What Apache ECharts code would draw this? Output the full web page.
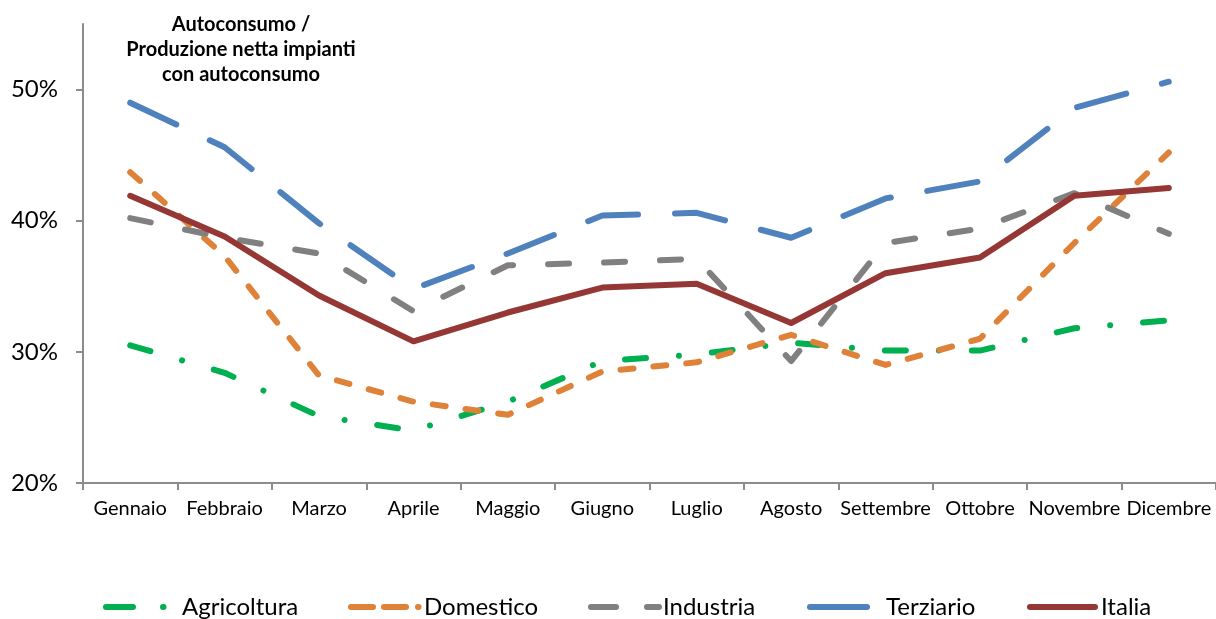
<!DOCTYPE html>
<html>
<head>
<meta charset="utf-8">
<title>Autoconsumo / Produzione netta impianti con autoconsumo</title>
<script src="https://cdn.jsdelivr.net/npm/echarts@6/dist/echarts.min.js"></script>
<style>
  html, body { margin: 0; padding: 0; background: #ffffff; }
  #chart { width: 1216px; height: 619px; }
</style>
</head>
<body>
<div id="chart"></div>
<script>
// Monthly share of self-consumption over net production (%), by sector
const months = ['Gennaio', 'Febbraio', 'Marzo', 'Aprile', 'Maggio', 'Giugno',
                'Luglio', 'Agosto', 'Settembre', 'Ottobre', 'Novembre', 'Dicembre'];
const agricoltura = [30.5, 28.4, 25.1, 24.0, 26.2, 29.3, 29.8, 30.7, 30.1, 30.1, 31.8, 32.4];
const domestico   = [43.7, 37.3, 28.2, 26.2, 25.2, 28.5, 29.2, 31.3, 29.0, 31.0, 38.3, 45.2];
const industria   = [40.2, 38.7, 37.5, 33.1, 36.6, 36.8, 37.1, 29.3, 38.3, 39.4, 42.1, 39.0];
const terziario   = [49.0, 45.6, 39.8, 34.8, 37.5, 40.4, 40.6, 38.7, 41.7, 43.0, 48.6, 50.6];
const italia      = [41.9, 38.8, 34.3, 30.8, 33.0, 34.9, 35.2, 32.2, 36.0, 37.2, 41.9, 42.5];
const yTicks = [20, 30, 40, 50];

const FONT = 'Lato, "Open Sans", sans-serif';
const LW = 6;

function lineSeries(name, data, color, dash) {
  return {
    name: name,
    type: 'line',
    data: data,
    symbol: 'none',
    smooth: false,
    z: 2,
    lineStyle: { color: color, width: LW, type: dash, cap: 'round', join: 'round' },
    itemStyle: { color: color },
    emphasis: { disabled: true }
  };
}

// One legend block per series so each key sits at its own spot
function legendItem(name, left, width, dash, textPad) {
  return {
    data: [name],
    top: 595,
    left: left,
    padding: 0,
    itemWidth: width,
    itemHeight: 14,
    selectedMode: false,
    itemStyle: { color: 'rgba(0,0,0,0)', borderWidth: 0, opacity: 0 },
    lineStyle: { width: LW, type: dash, cap: 'round' },
    textStyle: { fontFamily: FONT, fontSize: 24, color: '#000000', padding: [0, 0, 0, textPad] }
  };
}

const chart = echarts.init(document.getElementById('chart'), null, { renderer: 'canvas' });

chart.setOption({
  animation: false,
  backgroundColor: '#ffffff',
  textStyle: { fontFamily: FONT },
  grid: { left: 83, top: 24, width: 1137, height: 459, containLabel: false },
  graphic: [{
    type: 'text',
    x: 241,
    y: 12.5,
    style: {
      text: 'Autoconsumo /\nProduzione netta impianti\ncon autoconsumo',
      fontFamily: FONT,
      fontWeight: 'bold',
      fontSize: 20,
      lineHeight: 25,
      fill: '#000000',
      textAlign: 'center',
      textVerticalAlign: 'top'
    }
  }],
  legend: [
    legendItem('Agricoltura', 103, 60, [27, 30, 0.5, 100], 11),
    legendItem('Domestico', 348, 69, [22, 11, 22, 12, 0.5, 100], -1),
    legendItem('Industria', 588, 68, [25, 31, 12, 100], -1),
    legendItem('Terziario', 807, 57, 'solid', 14),
    legendItem('Italia', 1027, 65, 'solid', 1)
  ],
  xAxis: {
    type: 'category',
    data: months,
    boundaryGap: true,
    axisLine: { show: true, lineStyle: { color: '#8c8c8c', width: 2 } },
    axisTick: { show: true, length: 7, lineStyle: { color: '#8c8c8c', width: 2 } },
    axisLabel: { interval: 0, margin: 16, fontFamily: FONT, fontSize: 20, color: '#000000' },
    splitLine: { show: false }
  },
  yAxis: {
    type: 'value',
    min: 20,
    max: 55,
    interval: 10,
    axisLine: { show: true, lineStyle: { color: '#8c8c8c', width: 2 } },
    axisTick: { show: true, length: 7, customValues: yTicks, lineStyle: { color: '#8c8c8c', width: 2 } },
    axisLabel: {
      customValues: yTicks,
      margin: 25,
      fontFamily: FONT,
      fontSize: 24,
      color: '#000000',
      formatter: '{value}%'
    },
    splitLine: { show: false }
  },
  series: [
    lineSeries('Agricoltura', agricoltura, '#00b050', [21, 33, 0.01, 33]),
    lineSeries('Domestico', domestico, '#dd8238', [13, 20]),
    lineSeries('Industria', industria, '#808080', [21, 35]),
    lineSeries('Terziario', terziario, '#4f81bd', [51, 37]),
    lineSeries('Italia', italia, '#953735', 'solid')
  ]
});
</script>
</body>
</html>
